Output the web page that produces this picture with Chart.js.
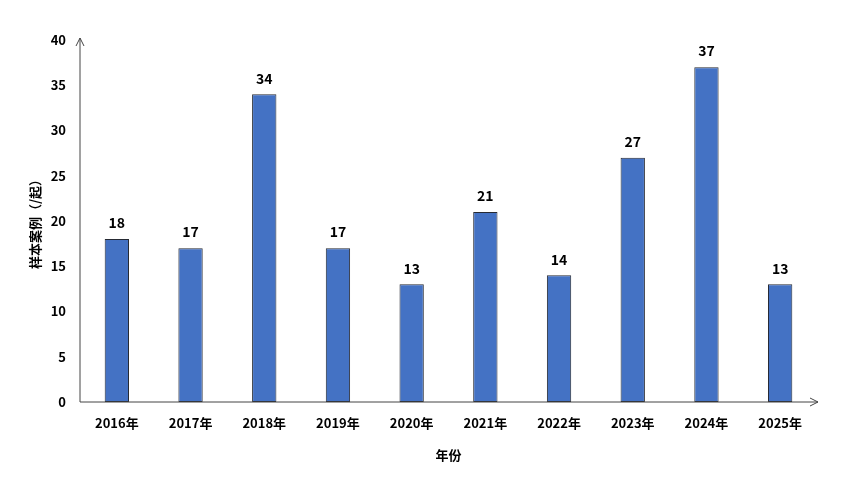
<!DOCTYPE html>
<html>
<head>
<meta charset="utf-8">
<script src="https://cdn.jsdelivr.net/npm/chart.js@4"></script>
<style>
  html, body { margin: 0; padding: 0; background: #fff; }
  #wrap { width: 843px; height: 481px; }
</style>
</head>
<body>
<div id="wrap"><canvas id="chart" width="843" height="481"></canvas></div>
<script>
// 数据
const years = ['2016年', '2017年', '2018年', '2019年', '2020年', '2021年', '2022年', '2023年', '2024年', '2025年'];
const cases = [18, 17, 34, 17, 13, 21, 14, 27, 37, 13];
const yTicks = [0, 5, 10, 15, 20, 25, 30, 35, 40];

const FONT = '"Noto Sans CJK SC", "Noto Sans", sans-serif';

// 坐标轴箭头
const axisArrows = {
    id: 'axisArrows',
    afterDraw(chart) {
        const c = chart.ctx;
        const a = chart.chartArea;
        c.save();
        c.strokeStyle = '#444';
        c.lineWidth = 1;
        c.beginPath();
        // y 轴
        c.moveTo(a.left, a.bottom);
        c.lineTo(a.left, a.top - 2);
        c.moveTo(a.left - 4, a.top + 6);
        c.lineTo(a.left, a.top - 2);
        c.lineTo(a.left + 4, a.top + 6);
        // x 轴
        c.moveTo(a.left, a.bottom);
        c.lineTo(a.right + 1, a.bottom);
        c.moveTo(a.right - 7, a.bottom - 4);
        c.lineTo(a.right + 1, a.bottom);
        c.lineTo(a.right - 7, a.bottom + 4);
        c.stroke();
        c.restore();
    }
};

// 柱顶数值
const barLabels = {
    id: 'barLabels',
    afterDatasetsDraw(chart) {
        const c = chart.ctx;
        const meta = chart.getDatasetMeta(0);
        c.save();
        c.fillStyle = '#000';
        c.font = 'bold 14px ' + FONT;
        c.textAlign = 'center';
        c.textBaseline = 'bottom';
        meta.data.forEach(function(bar, i) {
            c.fillText(cases[i], bar.x, bar.y - 9);
        });
        c.restore();
    }
};

new Chart(document.getElementById('chart'), {
    type: 'bar',
    data: {
        labels: years,
        datasets: [{
            data: cases,
            backgroundColor: '#4472C4',
            borderColor: '#262a33',
            borderWidth: 1,
            borderSkipped: false,
            categoryPercentage: 1,
            barPercentage: 0.33
        }]
    },
    options: {
        responsive: false,
        animation: false,
        layout: { padding: { top: 40, right: 26, bottom: 0, left: 0 } },
        plugins: {
            legend: { display: false },
            tooltip: { enabled: false }
        },
        scales: {
            x: {
                grid: { display: false, drawTicks: false },
                border: { display: false },
                ticks: {
                    color: '#000',
                    padding: 13,
                    maxRotation: 0,
                    font: { family: FONT, size: 13, weight: 'bold' }
                },
                title: {
                    display: true,
                    text: '年份',
                    color: '#000',
                    padding: { top: 4, bottom: 18 },
                    font: { family: FONT, size: 13, weight: 'bold' }
                },
                afterFit(scale) { scale.height = 79; }
            },
            y: {
                min: 0,
                max: 40,
                afterBuildTicks(scale) {
                    scale.ticks = yTicks.map(v => ({ value: v }));
                },
                grid: { display: false, drawTicks: false },
                border: { display: false },
                ticks: {
                    color: '#000',
                    padding: 14,
                    font: { family: FONT, size: 13, weight: 'bold' }
                },
                title: {
                    display: true,
                    text: '样本案例（/起）',
                    color: '#000',
                    padding: { top: 27, bottom: 4 },
                    font: { family: FONT, size: 13, weight: 'bold' }
                },
                afterFit(scale) { scale.width = 80; }
            }
        }
    },
    plugins: [axisArrows, barLabels]
});
</script>
</body>
</html>
